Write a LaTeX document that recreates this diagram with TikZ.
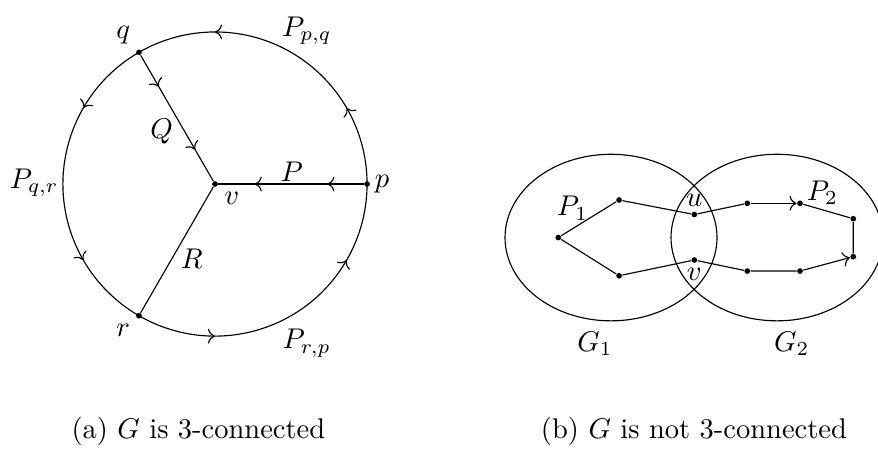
\documentclass[tikz,border=0pt]{standalone}
\usepackage{amsmath}
\usepackage{amssymb}
\usepackage{tikz}
\usetikzlibrary{arrows.meta,decorations.markings}

\begin{document}
\begin{tikzpicture}[
    dot/.style={circle,fill=black,inner sep=0pt,minimum size=2pt},
    label distance=-2pt,
    twoarrows/.style={postaction={decorate},decoration={markings,
        mark=at position 0.25 with {\arrow{>}},
        mark=at position 0.75 with {\arrow{>}}}}]
    \useasboundingbox (-2.651,-3.255) rectangle (8.175,2.269);
    \clip (-2.651,-3.255) rectangle (8.175,2.269);

    % (a) the three paths into v
    \node[dot,label=-70:$v$] (v) at (0,0) {};
    \node[dot,label=0:$p$] (p) at (0:1.875) {};
    \node[dot,label=120:$q$] (q) at (120:1.875) {};
    \node[dot,label=240:$r$] (r) at (240:1.875) {};

    \draw[twoarrows] (p.center) arc[start angle=0,end angle=120,radius=1.875];
    \draw[twoarrows] (q.center) arc[start angle=120,end angle=240,radius=1.875];
    \draw[twoarrows] (r.center) arc[start angle=240,end angle=360,radius=1.875];

    \draw[twoarrows] (p) -- (v);
    \draw[twoarrows] (q) -- (v);
    \draw (r) -- (v);

    \node (P) at (0.946,0.152) {$P$};
    \node (Q) at (-0.657,0.645) {$Q$};
    \node (R) at (-0.287,-0.916) {$R$};
    \node (Ppq) at (1.131,1.889) {$P_{p,q}$};
    \node (Pqr) at (-2.229,0.012) {$P_{q,r}$};
    \node (Prp) at (1.131,-1.964) {$P_{r,p}$};

    % (b) two pieces glued at u and v
    \draw (4.883,-0.660) ellipse [x radius=1.307,y radius=1.027];
    \draw (6.930,-0.660) ellipse [x radius=1.307,y radius=1.027];

    \node[dot] (a) at (4.233,-0.660) {};
    \node[dot] (b) at (4.982,-0.197) {};
    \node[dot] (c) at (4.982,-1.131) {};
    \node[dot,label=90:$u$] (u) at (5.910,-0.376) {};
    \node[dot,label=-90:$v$] (v2) at (5.910,-0.937) {};
    \node[dot] (d) at (6.563,-0.238) {};
    \node[dot] (e) at (7.213,-0.238) {};
    \node[dot] (f) at (7.870,-0.428) {};
    \node[dot] (g) at (7.870,-0.896) {};
    \node[dot] (h) at (7.213,-1.073) {};
    \node[dot] (i) at (6.563,-1.073) {};

    \draw (a) -- (b) -- (u) -- (d);
    \draw[->] (d) -- (e);
    \draw (e) -- (f) -- (g);
    \draw (a) -- (c) -- (v2) -- (i) -- (h);
    \draw[->] (h) -- (g);

    \node (P1) at (4.408,-0.300) {$P_1$};
    \node (P2) at (7.490,-0.105) {$P_2$};
    \node (G1) at (4.686,-1.973) {$G_1$};
    \node (G2) at (7.111,-1.973) {$G_2$};

    % captions
    \node (capa) at (-0.205,-3.046) {(a) $G$ is 3-connected};
    \node (capb) at (5.906,-3.046) {(b) $G$ is not 3-connected};
\end{tikzpicture}
\end{document}
